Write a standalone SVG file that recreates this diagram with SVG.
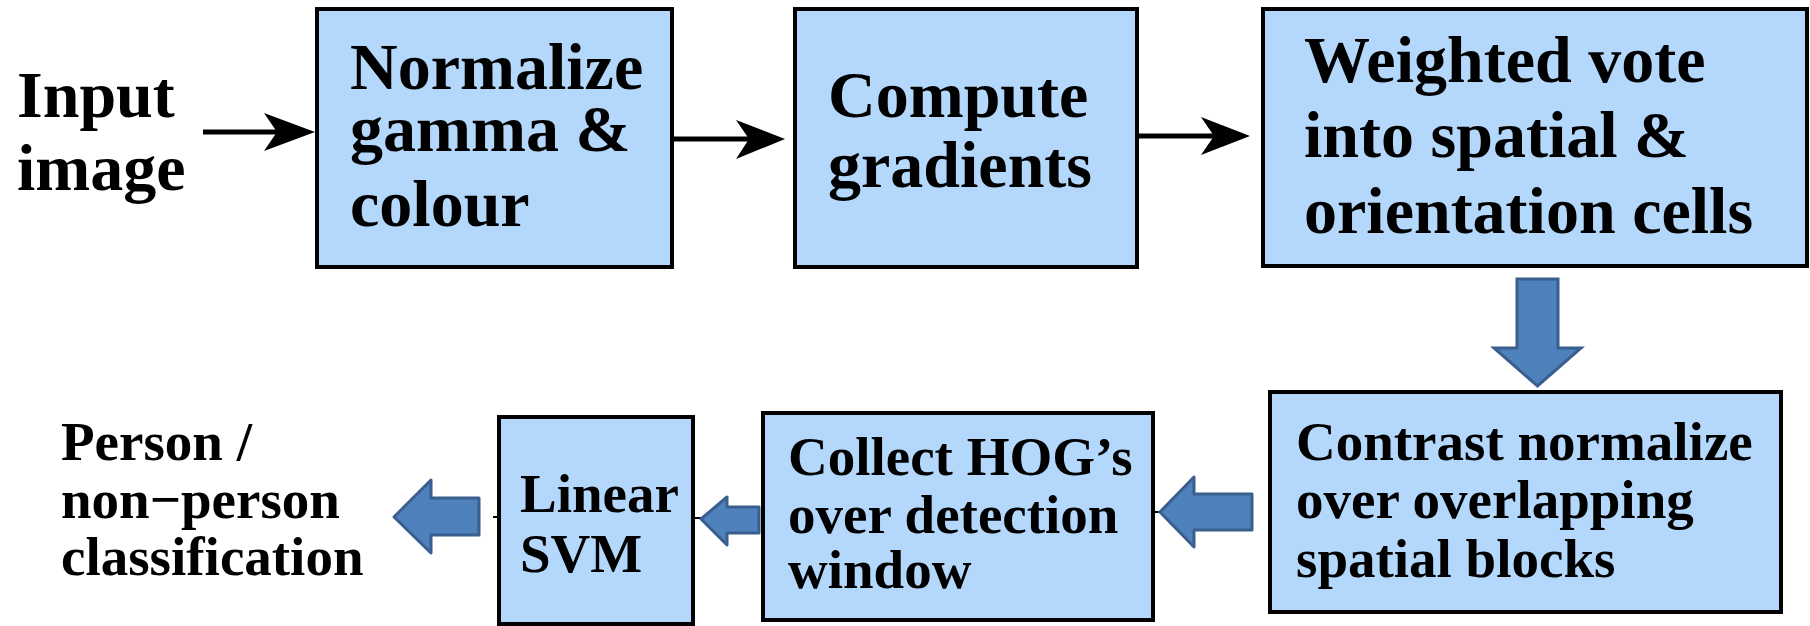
<svg xmlns="http://www.w3.org/2000/svg" width="1810" height="626" viewBox="0 0 1810 626">
  <style>
    .box { fill: #b3d8fb; stroke: #000; stroke-width: 4; }
    .line { stroke: #000; stroke-width: 5; fill: none; }
    .head { fill: #000; }
    .block { fill: #4f81bd; stroke: #3a5f8e; stroke-width: 3; }
    .stub { stroke: #000; stroke-width: 2; }
  </style>
  <rect width="1810" height="626" fill="#fff"/>

  <!-- pipeline connectors -->
  <g id="connectors">
    <!-- top row: thin arrows -->
    <line class="line" x1="203" y1="132" x2="280" y2="132"/>
    <polygon class="head" points="315,132 264,113 277,132 264,151"/>
    <line class="line" x1="672" y1="139" x2="750" y2="139"/>
    <polygon class="head" points="785,139 736,120 749,139 736,159"/>
    <line class="line" x1="1137" y1="136" x2="1215" y2="136"/>
    <polygon class="head" points="1250,136 1201,117 1214,136 1201,155"/>

    <!-- block arrow down to the contrast stage -->
    <polygon class="block" stroke-linejoin="miter" points="1517,279 1558,279 1558,348 1581,348 1537.5,386 1494,348 1517,348"/>

    <!-- bottom row: block arrows pointing left -->
    <line class="stub" x1="1153" y1="512" x2="1162" y2="512"/>
    <polygon class="block" stroke-linejoin="round" points="1160,512 1194,477 1194,494 1252,494 1252,530 1194,530 1194,547"/>
    <line class="stub" x1="693" y1="518" x2="703" y2="518"/>
    <polygon class="block" stroke-linejoin="round" points="701,519 727,497 727,507 759,507 759,533 727,533 727,545"/>
    <line class="stub" x1="493" y1="517" x2="498" y2="517"/>
    <polygon class="block" stroke-linejoin="round" points="394,517 431,480 431,498 479,498 479,535 431,535 431,553"/>
  </g>

  <g font-family="Liberation Serif, serif" font-weight="bold" fill="#000">
    <g id="input" font-size="66">
      <text x="17" y="117">Input</text>
      <text x="17" y="190">image</text>
    </g>

    <g id="normalize" font-size="66">
      <rect class="box" x="317" y="9" width="355" height="258"/>
      <text x="350" y="89">Normalize</text>
      <text x="350" y="151">gamma &amp;</text>
      <text x="350" y="226">colour</text>
    </g>

    <g id="gradients" font-size="66">
      <rect class="box" x="795" y="9" width="342" height="258"/>
      <text x="828" y="117">Compute</text>
      <text x="828" y="187">gradients</text>
    </g>

    <g id="vote" font-size="66">
      <rect class="box" x="1263" y="9" width="544" height="257"/>
      <text x="1304" y="82">Weighted vote</text>
      <text x="1304" y="157">into spatial &amp;</text>
      <text x="1304" y="233">orientation cells</text>
    </g>

    <g id="contrast" font-size="55">
      <rect class="box" x="1270" y="392" width="511" height="220"/>
      <text x="1296" y="460">Contrast normalize</text>
      <text x="1296" y="518">over overlapping</text>
      <text x="1296" y="577">spatial blocks</text>
    </g>

    <g id="collect" font-size="55">
      <rect class="box" x="763" y="413" width="390" height="207"/>
      <text x="788" y="475">Collect HOG’s</text>
      <text x="788" y="533">over detection</text>
      <text x="788" y="588">window</text>
    </g>

    <g id="svm" font-size="55">
      <rect class="box" x="499" y="417" width="194" height="207"/>
      <text x="520" y="512">Linear</text>
      <text x="520" y="572">SVM</text>
    </g>

    <g id="output" font-size="55">
      <text x="61" y="460">Person /</text>
      <text x="61" y="518">non−person</text>
      <text x="61" y="575">classification</text>
    </g>
  </g>
</svg>
